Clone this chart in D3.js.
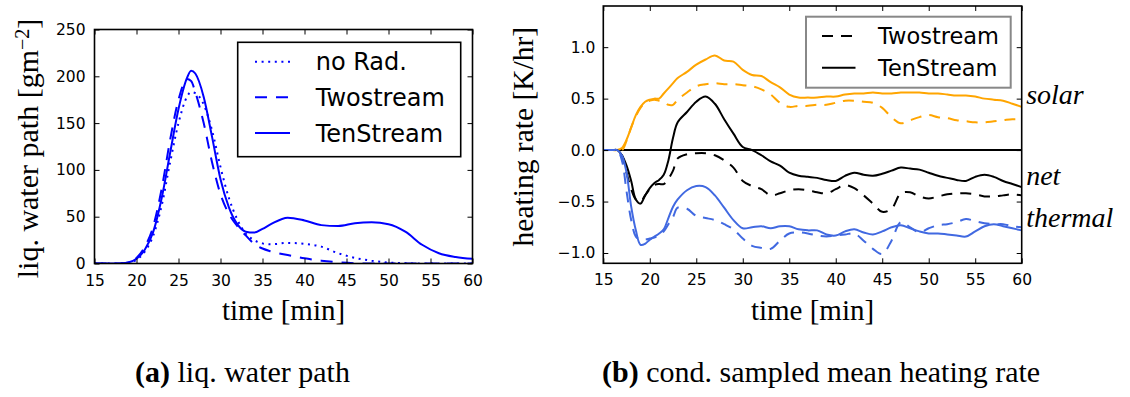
<!DOCTYPE html>
<html><head><meta charset="utf-8">
<script src="https://cdn.jsdelivr.net/npm/d3@7"></script>
<style>
html,body{margin:0;padding:0;background:#fff;}
svg{display:block;}
</style></head>
<body><svg id="c" width="1130" height="397"></svg>
<script>
// ---------- data: (a) liquid water path ----------
const timeA = [15,17,18,19,20,21,22,23,24,25,26,26.5,27,28,29,30,31,32,33,34,35,36,38,40,42,44,46,48,50,52,54,56,58,60];
const lwpNoRad = [0,0,0,1,4,13,30,62,108,150,178,183,182,170,142,103,70,47,32,25,21.5,20.5,22,21,18,11,6,3,1,0.3,0,0,0,0];
const lwpTwo   = [0,0,0,1,6,18,40,80,132,175,197,195,183,150,108,74,53,40,30,21,16,13,9,5.5,3,1.3,0.3,0,0,0,0,0,0,0];
const lwpTen   = [0,0,0,1,5,15,34,70,118,165,198,206,203,178,135,90,60,42,34,33,37,42,49,46,41,40,43,44,42,34,20,11,7,5];
const lwpTicksX = [15,20,25,30,35,40,45,50,55,60];
const lwpTicksY = [0,50,100,150,200,250];
const legendA = ["no Rad.","Twostream","TenStream"];

// ---------- data: (b) heating rate ----------
const timeB = [15,16,16.5,17,17.5,18,18.5,19,19.5,20,20.5,21,21.5,22,22.5,23,24,25,26,27,28,29,30,31,32,33,34,35,36,37,38,39,40,41,42,43,44,45,46,47,48,49,50,51,52,53,54,55,56,57,58,59,60];
const solarTen = [0,0,0,0.02,0.1,0.22,0.34,0.42,0.47,0.49,0.5,0.5,0.55,0.6,0.65,0.7,0.76,0.83,0.88,0.92,0.87,0.86,0.78,0.73,0.72,0.66,0.61,0.54,0.51,0.51,0.51,0.52,0.52,0.54,0.55,0.55,0.56,0.55,0.55,0.56,0.56,0.56,0.55,0.55,0.54,0.53,0.53,0.52,0.5,0.49,0.48,0.45,0.42];
const solarTwo = [0,0,0,0,0.09,0.22,0.33,0.41,0.46,0.48,0.49,0.48,0.47,0.44,0.44,0.49,0.56,0.62,0.64,0.65,0.64,0.64,0.63,0.62,0.59,0.54,0.46,0.42,0.43,0.43,0.44,0.44,0.46,0.48,0.48,0.47,0.46,0.41,0.32,0.26,0.29,0.32,0.34,0.32,0.31,0.29,0.28,0.27,0.27,0.28,0.29,0.3,0.3];
const netTen = [0,0,0,-0.05,-0.15,-0.3,-0.48,-0.52,-0.44,-0.37,-0.32,-0.29,-0.24,-0.1,0.12,0.27,0.37,0.47,0.52,0.45,0.3,0.16,0.03,0,-0.05,-0.11,-0.15,-0.22,-0.25,-0.26,-0.27,-0.29,-0.3,-0.25,-0.22,-0.24,-0.25,-0.23,-0.2,-0.17,-0.18,-0.19,-0.22,-0.25,-0.27,-0.29,-0.3,-0.26,-0.24,-0.26,-0.3,-0.33,-0.36];
const netTwo = [0,0,0,-0.05,-0.22,-0.38,-0.48,-0.5,-0.44,-0.38,-0.34,-0.33,-0.33,-0.28,-0.2,-0.08,-0.04,-0.03,-0.03,-0.05,-0.1,-0.17,-0.3,-0.35,-0.38,-0.44,-0.42,-0.39,-0.38,-0.39,-0.41,-0.42,-0.38,-0.34,-0.37,-0.44,-0.52,-0.6,-0.57,-0.42,-0.41,-0.45,-0.47,-0.45,-0.43,-0.42,-0.42,-0.43,-0.45,-0.45,-0.44,-0.43,-0.44];
const thermTen = [0,0,0,-0.05,-0.22,-0.55,-0.78,-0.92,-0.91,-0.87,-0.84,-0.81,-0.77,-0.66,-0.55,-0.48,-0.39,-0.35,-0.36,-0.44,-0.56,-0.68,-0.76,-0.75,-0.74,-0.76,-0.74,-0.74,-0.77,-0.78,-0.78,-0.82,-0.83,-0.79,-0.77,-0.8,-0.82,-0.79,-0.75,-0.73,-0.76,-0.79,-0.81,-0.81,-0.82,-0.83,-0.84,-0.79,-0.74,-0.72,-0.74,-0.76,-0.78];
const thermTwo = [0,0,0,-0.1,-0.4,-0.68,-0.84,-0.87,-0.87,-0.86,-0.85,-0.83,-0.79,-0.72,-0.65,-0.56,-0.57,-0.64,-0.66,-0.68,-0.72,-0.77,-0.86,-0.93,-0.95,-0.96,-0.88,-0.81,-0.8,-0.81,-0.83,-0.84,-0.83,-0.82,-0.81,-0.88,-0.96,-1.01,-0.88,-0.7,-0.75,-0.8,-0.76,-0.73,-0.72,-0.7,-0.67,-0.69,-0.71,-0.72,-0.72,-0.74,-0.75];
const hrTicksX = [15,20,25,30,35,40,45,50,55,60];
const hrTicksY = [-1.0,-0.5,0.0,0.5,1.0];
const legendB = ["Twostream","TenStream"];
const compLabels = ["solar","net","thermal"];
const compLabelValues = [0.45,-0.34,-0.75];

// ---------- drawing ----------
const svg = d3.select("#c");
const SANS = "DejaVu Sans", SERIF = "Liberation Serif";
const TICK = 5;

function frame(g, x, y, ticksX, ticksY, fmtY, padY, W, H) {
  g.append("g").attr("transform",`translate(0,${H})`)
    .call(d3.axisBottom(x).tickValues(ticksX).tickSizeInner(-TICK).tickSizeOuter(0).tickPadding(11))
    .call(a=>{a.select(".domain").remove();a.selectAll("text").attr("font-family",SANS).attr("font-size",15.5).attr("fill","#000");a.selectAll("line").attr("stroke","#000");});
  g.append("g")
    .call(d3.axisTop(x).tickValues(ticksX).tickSizeInner(-TICK).tickSizeOuter(0).tickFormat(""))
    .call(a=>{a.select(".domain").remove();a.selectAll("line").attr("stroke","#000");});
  g.append("g")
    .call(d3.axisLeft(y).tickValues(ticksY).tickSizeInner(-TICK).tickSizeOuter(0).tickPadding(padY).tickFormat(fmtY))
    .call(a=>{a.select(".domain").remove();a.selectAll("text").attr("font-family",SANS).attr("font-size",15.5).attr("fill","#000");a.selectAll("line").attr("stroke","#000");});
  g.append("g").attr("transform",`translate(${W},0)`)
    .call(d3.axisRight(y).tickValues(ticksY).tickSizeInner(-TICK).tickSizeOuter(0).tickFormat(""))
    .call(a=>{a.select(".domain").remove();a.selectAll("line").attr("stroke","#000");});
}

// ----- panel (a) -----
{
  const L = 94.5, T = 29.5, W = 472.5 - 94.5, H = 263.5 - 29.5;
  const g = svg.append("g").attr("transform",`translate(${L},${T})`);
  const x = d3.scaleLinear().domain([15,60]).range([0,W]);
  const y = d3.scaleLinear().domain([0,250]).range([H,0]);
  g.append("clipPath").attr("id","clipA").append("rect").attr("width",W).attr("height",H);
  const line = d3.line().x((d,i)=>x(timeA[i])).y(d=>y(d)).curve(d3.curveMonotoneX);
  const series = [
    {v: lwpNoRad, dash:"2,4.6"},
    {v: lwpTwo, dash:"12,9"},
    {v: lwpTen, dash:null}
  ];
  const pg = g.append("g").attr("clip-path","url(#clipA)");
  series.forEach(s=>{
    pg.append("path").attr("d",line(s.v)).attr("fill","none").attr("stroke","#0000ff")
      .attr("stroke-width",2).attr("stroke-dasharray",s.dash);
  });
  frame(g,x,y,lwpTicksX,lwpTicksY,d3.format("d"),9,W,H);
  g.append("rect").attr("width",W).attr("height",H).attr("fill","none").attr("stroke","#000").attr("stroke-width",1.6);
  // legend
  const lg = g.append("g").attr("transform",`translate(${237.7-L},${42.3-T})`);
  lg.append("rect").attr("width",223).attr("height",114.4).attr("fill","#fff").attr("stroke","#000").attr("stroke-width",1.6);
  legendA.forEach((name,i)=>{
    const yy = 19.4 + i*35.6;
    lg.append("line").attr("x1",17.3).attr("x2",52.3).attr("y1",yy).attr("y2",yy)
      .attr("stroke","#0000ff").attr("stroke-width",2).attr("stroke-dasharray",series[i].dash);
    lg.append("text").attr("x",78).attr("y",yy).attr("dy","0.36em").attr("font-family",SANS)
      .attr("font-size",24).attr("fill","#000").text(name);
  });
  // axis labels
  svg.append("text").attr("x",L+W/2).attr("y",320).attr("text-anchor","middle")
    .attr("font-family",SERIF).attr("font-size",29).attr("fill","#000").text("time [min]");
  const yl = svg.append("text").attr("transform",`translate(38,${T+H/2+2}) rotate(-90)`).attr("text-anchor","middle")
    .attr("font-family",SERIF).attr("font-size",30).attr("fill","#000");
  yl.append("tspan").text("liq.  water path [gm");
  yl.append("tspan").attr("dy","-0.45em").attr("font-size",20).text("−2");
  yl.append("tspan").attr("dy","0.3em").text("]");
}

// ----- panel (b) -----
{
  const L = 603.3, T = 6, W = 1021.7 - 603.3, H = 263.3 - 6;
  const g = svg.append("g").attr("transform",`translate(${L},${T})`);
  const x = d3.scaleLinear().domain([15,60]).range([0,W]);
  const y = d3.scaleLinear().domain([-1.1,1.4]).range([H,0]);
  g.append("clipPath").attr("id","clipB").append("rect").attr("width",W).attr("height",H);
  const line = d3.line().x((d,i)=>x(timeB[i])).y(d=>y(d)).curve(d3.curveCatmullRom.alpha(0.5));
  const pg = g.append("g").attr("clip-path","url(#clipB)");
  pg.append("line").attr("x1",0).attr("x2",W).attr("y1",y(0)).attr("y2",y(0)).attr("stroke","#000").attr("stroke-width",2);
  const series = [
    {v: solarTwo, c:"#ffa500", dash:"11,8"},
    {v: solarTen, c:"#ffa500", dash:null},
    {v: netTwo, c:"#000000", dash:"11,8"},
    {v: netTen, c:"#000000", dash:null},
    {v: thermTwo, c:"#4169e1", dash:"11,8"},
    {v: thermTen, c:"#4169e1", dash:null}
  ];
  series.forEach(s=>{
    pg.append("path").attr("d",line(s.v)).attr("fill","none").attr("stroke",s.c)
      .attr("stroke-width",2).attr("stroke-dasharray",s.dash);
  });
  frame(g,x,y,hrTicksX,hrTicksY,d3.format(".1f"),8,W,H);
  g.append("rect").attr("width",W).attr("height",H).attr("fill","none").attr("stroke","#000").attr("stroke-width",1.6);
  // legend
  const lg = g.append("g").attr("transform",`translate(${806-L},${16.7-T})`);
  lg.append("rect").attr("width",204.7).attr("height",71).attr("fill","#fff").attr("stroke","#888").attr("stroke-width",2);
  const ld = ["11,8", null];
  legendB.forEach((name,i)=>{
    const yy = 19.3 + i*31.7;
    lg.append("line").attr("x1",16).attr("x2",49.5).attr("y1",yy).attr("y2",yy)
      .attr("stroke","#000").attr("stroke-width",2).attr("stroke-dasharray",ld[i]);
    lg.append("text").attr("x",72).attr("y",yy).attr("dy","0.36em").attr("font-family",SANS)
      .attr("font-size",22.5).attr("fill","#000").text(name);
  });
  // component labels
  compLabels.forEach((t,i)=>{
    svg.append("text").attr("x",L+W+4.5).attr("y",T+y(compLabelValues[i])).attr("font-family",SERIF)
      .attr("font-style","italic").attr("font-size",28).attr("fill","#000").text(t);
  });
  svg.append("text").attr("x",L+W/2).attr("y",320).attr("text-anchor","middle")
    .attr("font-family",SERIF).attr("font-size",29).attr("fill","#000").text("time [min]");
  svg.append("text").attr("transform",`translate(533,${T+H/2+2}) rotate(-90)`).attr("text-anchor","middle")
    .attr("font-family",SERIF).attr("font-size",29.5).attr("fill","#000").text("heating rate [K/hr]");
}

// ----- captions -----
function caption(x, lab, rest) {
  const t = svg.append("text").attr("x",x).attr("y",382).attr("font-family",SERIF).attr("font-size",30).attr("fill","#000");
  t.append("tspan").attr("font-weight","bold").text(lab);
  t.append("tspan").text(" " + rest);
}
caption(135, "(a)", "liq. water path");
caption(602, "(b)", "cond. sampled mean heating rate");
</script>
</body></html>
